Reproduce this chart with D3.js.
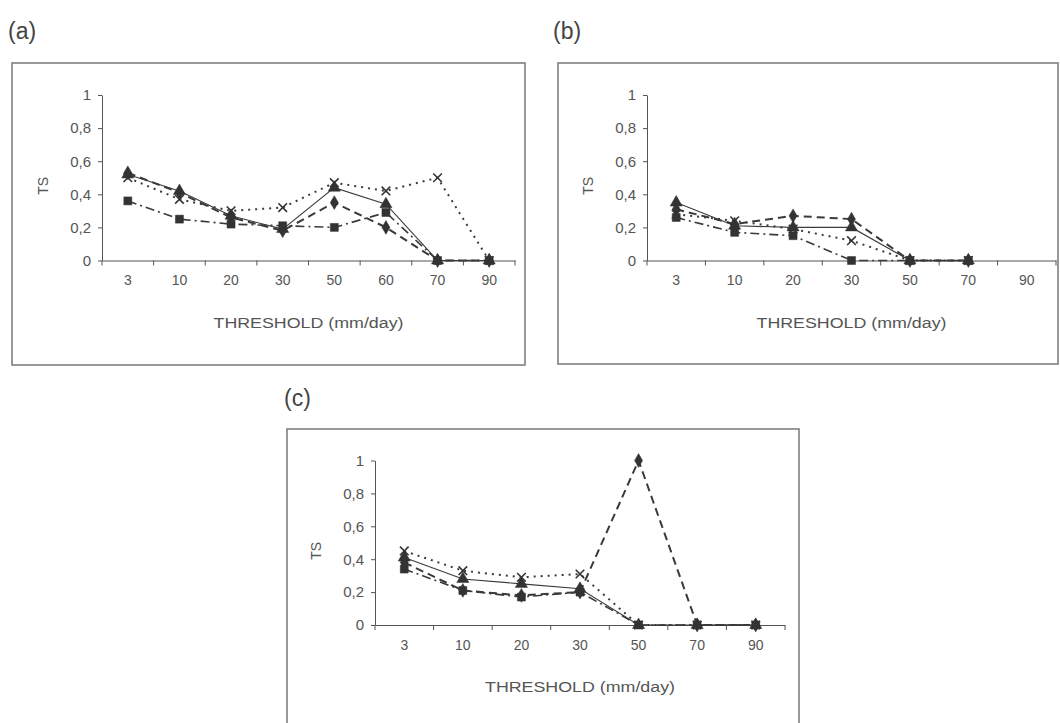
<!DOCTYPE html>
<html>
<head>
<meta charset="utf-8">
<script src="https://cdn.jsdelivr.net/npm/d3@7"></script>
<style>
  body { margin: 0; background: #fff; }
  svg { display: block; }
  text { font-family: "Liberation Sans", Arial, sans-serif; fill: #555; }
</style>
</head>
<body>
<div id="chart"></div>
<script>
// Chart data
var catsA = ["3", "10", "20", "30", "50", "60", "70", "90"];
var catsBC = ["3", "10", "20", "30", "50", "70", "90"];
var yTicks = [0, 0.2, 0.4, 0.6, 0.8, 1];
var yTickLabels = ["0", "0,2", "0,4", "0,6", "0,8", "1"];

// panel (a)
var aDiamond = [0.53, 0.41, 0.26, 0.18, 0.35, 0.20, 0, 0];
var aSquare = [0.36, 0.25, 0.22, 0.21, 0.20, 0.29, 0, 0];
var aTriangle = [0.52, 0.42, 0.27, 0.19, 0.44, 0.34, 0, 0];
var aCross = [0.50, 0.37, 0.30, 0.32, 0.47, 0.42, 0.50, 0];

// panel (b) - no value at 90
var bDiamond = [0.31, 0.22, 0.27, 0.25, 0, 0, null];
var bSquare = [0.26, 0.17, 0.15, 0, 0, 0, null];
var bTriangle = [0.35, 0.21, 0.20, 0.20, 0, 0, null];
var bCross = [0.28, 0.24, 0.19, 0.12, 0, 0, null];

// panel (c)
var cDiamond = [0.38, 0.21, 0.18, 0.20, 1.0, 0, 0];
var cSquare = [0.34, 0.21, 0.17, 0.20, 0, 0, 0];
var cTriangle = [0.41, 0.28, 0.25, 0.22, 0, 0, 0];
var cCross = [0.45, 0.33, 0.29, 0.31, 0, 0, 0];

var svgWidth = 1060;
var svgHeight = 723;

var svg = d3.select("#chart")
  .append("svg")
  .attr("width", svgWidth)
  .attr("height", svgHeight);

// line style per series
var styles = {
  diamond: { dash: "8,5", width: 2, symbol: d3.symbolDiamond, size: 55 },
  square: { dash: "9,4,2,4", width: 1.6, symbol: d3.symbolSquare, size: 64 },
  triangle: { dash: null, width: 1.1, symbol: d3.symbolTriangle, size: 64 },
  cross: { dash: "2,5", width: 2, symbol: d3.symbolX, size: 50 }
};

var panels = [
  { label: "(a)", lx: 8, ly: 39, box: [12, 63, 513, 302], x0: 102, x1: 515, yTop: 95, yBot: 260.5,
    cats: catsA, series: [["triangle", aTriangle], ["square", aSquare], ["diamond", aDiamond], ["cross", aCross]] },
  { label: "(b)", lx: 553, ly: 39, box: [558, 63, 500, 301], x0: 647, x1: 1056, yTop: 95, yBot: 260.5,
    cats: catsBC, series: [["triangle", bTriangle], ["square", bSquare], ["diamond", bDiamond], ["cross", bCross]] },
  { label: "(c)", lx: 284, ly: 406, box: [287, 429, 512, 310], x0: 375, x1: 785, yTop: 460.5, yBot: 625,
    cats: catsBC, series: [["triangle", cTriangle], ["square", cSquare], ["diamond", cDiamond], ["cross", cCross]] }
];

panels.forEach(function(p) {
  var g = svg.append("g");

  // panel letter
  g.append("text")
    .attr("x", p.lx)
    .attr("y", p.ly)
    .style("font-size", "23px")
    .style("fill", "#444")
    .text(p.label);

  // frame
  g.append("rect")
    .attr("x", p.box[0])
    .attr("y", p.box[1])
    .attr("width", p.box[2])
    .attr("height", p.box[3])
    .attr("fill", "#fff")
    .attr("stroke", "#777")
    .attr("stroke-width", 1.5);

  var x = d3.scaleBand()
    .domain(p.cats)
    .range([p.x0, p.x1])
    .padding(0);

  var y = d3.scaleLinear()
    .domain([0, 1])
    .range([p.yBot, p.yTop]);

  // y axis
  var yAxis = d3.axisLeft(y)
    .tickValues(yTicks)
    .tickFormat(function(d, i) { return yTickLabels[i]; })
    .tickSize(4)
    .tickSizeOuter(0)
    .tickPadding(7);

  var yg = g.append("g")
    .attr("transform", "translate(" + p.x0 + ",0)")
    .call(yAxis);
  yg.selectAll("text").style("font-size", "15px").style("font-family", "Liberation Sans, Arial, sans-serif").attr("fill", "#555");
  yg.selectAll("line, path").attr("stroke", "#555");

  // x axis: labels centred, ticks on band edges
  var xAxis = d3.axisBottom(x)
    .tickSize(0)
    .tickSizeOuter(0)
    .tickPadding(15);

  var xg = g.append("g")
    .attr("transform", "translate(0," + p.yBot + ")")
    .call(xAxis);
  xg.selectAll("text").style("font-size", "14px").style("font-family", "Liberation Sans, Arial, sans-serif").attr("fill", "#555");
  xg.select(".domain").attr("stroke", "#555");

  var edges = p.cats.map(function(c) { return x(c); }).concat([x.range()[1]]);
  xg.selectAll(".edge")
    .data(edges)
    .enter()
    .append("line")
    .attr("class", "edge")
    .attr("x1", function(d) { return d; })
    .attr("x2", function(d) { return d; })
    .attr("y1", 0)
    .attr("y2", 5)
    .attr("stroke", "#555");

  // axis titles
  g.append("text")
    .attr("x", (p.x0 + p.x1) / 2)
    .attr("y", p.yBot + 67)
    .attr("text-anchor", "middle")
    .attr("textLength", 190)
    .attr("lengthAdjust", "spacingAndGlyphs")
    .style("font-size", "14px")
    .text("THRESHOLD (mm/day)");

  g.append("text")
    .attr("transform", "translate(" + (p.x0 - 54) + "," + ((p.yTop + p.yBot) / 2 + 8) + ") rotate(-90)")
    .attr("text-anchor", "middle")
    .style("font-size", "14px")
    .text("TS");

  // series lines and markers
  p.series.forEach(function(s) {
    var st = styles[s[0]];
    var pts = p.cats.map(function(c, i) { return { c: c, v: s[1][i] }; });

    var line = d3.line()
      .defined(function(d) { return d.v !== null; })
      .x(function(d) { return x(d.c) + x.bandwidth() / 2; })
      .y(function(d) { return y(d.v); });

    g.append("path")
      .datum(pts)
      .attr("d", line)
      .attr("fill", "none")
      .attr("stroke", "#3a3a3a")
      .attr("stroke-width", st.width)
      .attr("stroke-dasharray", st.dash);

    g.selectAll(".m-" + s[0])
      .data(pts.filter(function(d) { return d.v !== null; }))
      .enter()
      .append("path")
      .attr("class", "m-" + s[0])
      .attr("transform", function(d) {
        return "translate(" + (x(d.c) + x.bandwidth() / 2) + "," + y(d.v) + ")";
      })
      .attr("d", d3.symbol().type(st.symbol).size(st.size))
      .attr("fill", s[0] === "cross" ? "none" : "#333")
      .attr("stroke", "#333")
      .attr("stroke-width", s[0] === "cross" ? 1.6 : 0.5);
  });
});
</script>
</body>
</html>
